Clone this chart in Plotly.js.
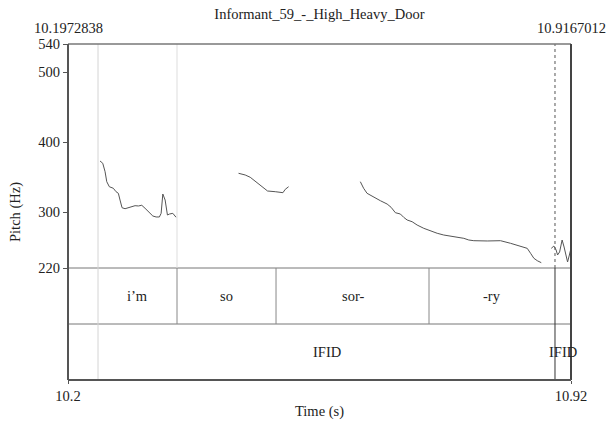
<!DOCTYPE html>
<html>
<head>
<meta charset="utf-8">
<script src="https://cdn.plot.ly/plotly-3.0.1.min.js"></script>
<style>html,body{margin:0;padding:0;background:#fff;}#chart{width:611px;height:424px;}</style>
</head>
<body>
<div id="chart"></div>
<script>
// ---- data ----
const chartTitle = "Informant_59_-_High_Heavy_Door";
const tStart = 10.1972838;
const tEnd = 10.9167012;
const xTickText = ["10.2", "10.92"];
const yTickVals = [220, 300, 400, 500, 540];

const timeSeg1 = [10.2431,10.2470,10.2503,10.2527,10.2564,10.2621,10.2660,10.2693,10.2717,10.2746,10.2789,10.2836,10.2885,10.2932,10.2980,10.3028,10.3075,10.3123,10.3186,10.3233,10.3280,10.3305,10.3329,10.3362,10.3395,10.3424,10.3472,10.3519];
const pitchSeg1 = [372.9,369.6,357.6,343.3,336.1,333.9,329.0,326.7,317.1,306.1,304.7,306.1,307.6,309.0,308.6,309.6,305.3,300.4,294.3,292.9,292.9,298.1,325.7,317.1,295.7,297.1,298.1,292.4];

const timeSeg2 = [10.4412,10.4507,10.4579,10.4675,10.4770,10.4827,10.4937,10.5019,10.5047,10.5080,10.5128];
const pitchSeg2 = [355.3,352.9,349.6,341.9,333.9,330.0,329.0,328.6,327.6,332.4,336.1];

const timeSeg3 = [10.6154,10.6201,10.6250,10.6345,10.6441,10.6537,10.6594,10.6655,10.6727,10.6774,10.6823,10.6895,10.6966,10.7061,10.7157,10.7253,10.7347,10.7443,10.7539,10.7634,10.7705,10.7777,10.7969,10.8159,10.8302,10.8446,10.8541,10.8589,10.8636,10.8685,10.8742];
const pitchSeg3 = [343.3,333.9,326.7,321.0,316.1,311.4,306.7,299.0,297.1,292.4,288.6,286.1,281.4,276.7,272.9,269.6,267.1,265.7,264.7,262.4,260.0,259.0,258.6,259.0,255.3,251.4,248.1,241.0,233.9,230.4,227.6];

const timeSeg4 = [10.8885,10.8922,10.8954,10.8975,10.9004,10.9040,10.9068,10.9097,10.9118,10.9140,10.9161];
const pitchSeg4 = [248.1,251.4,245.7,238.6,242.9,260.0,250.0,235.7,228.6,237.1,245.7];

const wordBounds = [10.2402, 10.3532, 10.4948, 10.7136, 10.8938];
const wordLabels = ["i’m", "so", "sor-", "-ry"];
const ifidBounds = [10.2402, 10.8938, 10.9167012];
const ifidLabels = ["IFID", "IFID"];

// tier geometry (in the y scale, below the pitch floor)
const pitchFloor = 220, tierSplit = 140, tierBottom = 60, pitchTop = 540;

const FONT = "Liberation Serif";
const FS = 14.5;

const segs = [[timeSeg1,pitchSeg1],[timeSeg2,pitchSeg2],[timeSeg3,pitchSeg3],[timeSeg4,pitchSeg4]];
const traces = segs.map(s => ({
  x: s[0], y: s[1], type: "scatter", mode: "lines",
  line: {color: "#555", width: 1}, hoverinfo: "skip", showlegend: false
}));

const shapes = [];
shapes.push({type:"line", xref:"paper", x0:0, x1:1, yref:"y", y0:pitchFloor, y1:pitchFloor, line:{color:"#777", width:1}});
shapes.push({type:"line", xref:"paper", x0:0, x1:1, yref:"y", y0:tierSplit, y1:tierSplit, line:{color:"#777", width:1}});
shapes.push({type:"line", x0:wordBounds[0], x1:wordBounds[0], y0:tierBottom, y1:pitchTop, line:{color:"#d4d4d4", width:1}});
shapes.push({type:"line", x0:wordBounds[1], x1:wordBounds[1], y0:pitchFloor, y1:pitchTop, line:{color:"#dddddd", width:1}});
for (let i = 1; i < wordBounds.length - 1; i++) {
  shapes.push({type:"line", x0:wordBounds[i], x1:wordBounds[i], y0:tierSplit, y1:pitchFloor, line:{color:"#888", width:1}});
}
const b = ifidBounds[1];
shapes.push({type:"line", x0:b, x1:b, y0:pitchFloor, y1:pitchTop, line:{color:"#555", width:1, dash:"dot"}});
shapes.push({type:"line", x0:b, x1:b, y0:tierBottom, y1:pitchFloor, line:{color:"#333", width:1}});
shapes.push({type:"line", xref:"paper", yref:"paper", x0:0, x1:1, y0:1, y1:1, line:{color:"#777", width:1.5}});
shapes.push({type:"line", xref:"paper", yref:"paper", x0:1, x1:1, y0:0, y1:1, line:{color:"#444", width:2}});
shapes.push({type:"line", xref:"paper", yref:"paper", x0:0, x1:1, y0:0, y1:0, line:{color:"#555", width:2}});
shapes.push({type:"line", xref:"paper", yref:"paper", x0:0, x1:0, y0:0, y1:1, line:{color:"#555", width:2}});

const annotations = [];
const tf = {family: FONT, size: FS, color: "#222"};
for (let i = 0; i < wordLabels.length; i++) {
  annotations.push({x:(wordBounds[i]+wordBounds[i+1])/2, y:(pitchFloor+tierSplit)/2, text:wordLabels[i], showarrow:false, font:tf, xanchor:"center", yanchor:"middle"});
}
for (let i = 0; i < ifidLabels.length; i++) {
  annotations.push({x:(ifidBounds[i]+ifidBounds[i+1])/2, y:(tierSplit+tierBottom)/2, text:ifidLabels[i], showarrow:false, font:tf, xanchor:"center", yanchor:"middle"});
}
annotations.push({x:tStart, xref:"x", y:1, yref:"paper", yanchor:"bottom", xanchor:"center", yshift:6, text:String(tStart), showarrow:false, font:tf});
annotations.push({x:tEnd, xref:"x", y:1, yref:"paper", yanchor:"bottom", xanchor:"center", yshift:6, text:String(tEnd), showarrow:false, font:tf});

const layout = {
  width: 611, height: 424,
  margin: {l: 68, r: 40, t: 44, b: 44, pad: 0},
  paper_bgcolor: "#fff", plot_bgcolor: "#fff",
  font: {family: FONT, size: FS, color: "#222"},
  title: {text: chartTitle, x: 0.5228, xanchor: "center", y: 0.968, yanchor: "middle", font: {family: FONT, size: FS, color: "#222"}},
  xaxis: {
    range: [tStart, tEnd], showgrid: false, zeroline: false, showline: false,
    tickmode: "array", tickvals: [tStart, tEnd], ticktext: xTickText,
    ticks: "outside", ticklen: 3, tickcolor: "#555", tickwidth: 1,
    tickfont: {family: FONT, size: FS, color: "#222"},
    title: {text: "Time (s)", font: {family: FONT, size: FS, color: "#222"}, standoff: 2}
  },
  yaxis: {
    range: [tierBottom, pitchTop], showgrid: false, zeroline: false, showline: false,
    tickmode: "array", tickvals: yTickVals, ticktext: yTickVals.map(String),
    ticks: "outside", ticklen: 4, tickcolor: "#555", tickwidth: 1,
    tickfont: {family: FONT, size: FS, color: "#222"},
    title: {text: "Pitch (Hz)", font: {family: FONT, size: FS, color: "#222"}, standoff: 14}
  },
  shapes: shapes,
  annotations: annotations,
  showlegend: false
};

Plotly.newPlot("chart", traces, layout, {displayModeBar: false, staticPlot: true});
</script>
</body>
</html>
